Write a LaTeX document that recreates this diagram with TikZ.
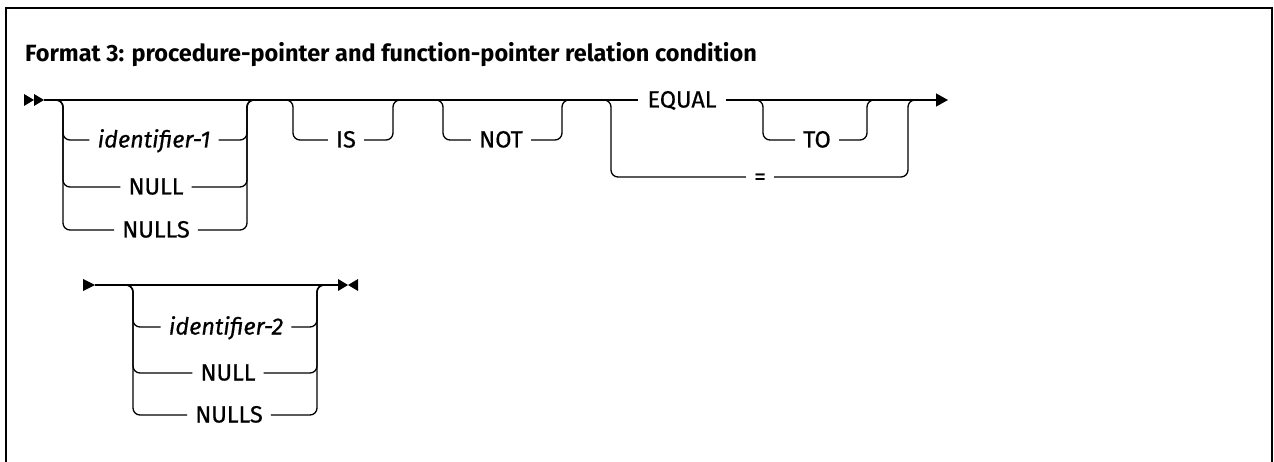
\documentclass[tikz,border=0pt]{standalone}
\usepackage{fontspec}
\setmainfont{Fira Sans}
\newfontfamily\railfont{Fira Sans}[FakeBold=0.6, ItalicFeatures={FakeBold=0.6}]
\usepackage{tikz}
\usetikzlibrary{arrows.meta, calc, positioning}

\tikzset{
  rail/.style={line width=1.3pt, rounded corners=7pt},
  kw/.style={font=\railfont\fontsize{23.5}{25}\selectfont, inner xsep=8pt, inner ysep=0pt,
    text height=15pt, text depth=0pt, anchor=center},
  tip/.style={fill=black}
}

\begin{document}
\begin{tikzpicture}[x=1pt, y=-1pt]
\useasboundingbox (0,0) rectangle (1274,462);
\draw[line width=2pt] (6,470) -- (6,8) -- (1272,8) -- (1272,470);
\node[anchor=base west, inner sep=0pt, font=\bfseries\fontsize{23.5}{26}\selectfont] (title) at (25,62)
  {Format 3: procedure-pointer and function-pointer relation condition};

\begin{scope}
\fill[tip] (24,94) -- (34,100) -- (24,106) -- cycle;
\fill[tip] (34,94) -- (44,100) -- (34,106) -- cycle;
\coordinate (st1) at (44,100);
\coordinate (fin1) at (948,100);
\node[kw] (id1) at (154,140) {\itshape identifier-1};
\node[kw] (nul1) at (156,187) {NULL};
\node[kw] (nuls1) at (156,230) {NULLS};
\node[kw] (is) at (346,140) {IS};
\node[kw] (not) at (501,140) {NOT};
\node[kw, inner xsep=9pt] (equal) at (682,100) {EQUAL};
\node[kw] (to) at (817,140) {TO};
\node[kw] (eqs) at (760,177) {=};
\draw[rail] (st1) -- (equal.west);
\draw[rail, -{Triangle[length=12pt, width=13pt]}] (equal.east) -- (fin1);
\end{scope}

\begin{scope}
\fill[tip] (83,279) -- (95,285) -- (83,291) -- cycle;
\fill[tip] (338,279) -- (348,285) -- (338,291) -- cycle;
\fill[tip] (358,279) -- (348,285) -- (358,291) -- cycle;
\coordinate (st2) at (95,285);
\coordinate (fin2) at (338,285);
\node[kw] (id2) at (226,327) {\itshape identifier-2};
\node[kw] (nul2) at (228,373) {NULL};
\node[kw] (nuls2) at (229,415) {NULLS};
\draw[rail] (st2) -- (fin2);
\end{scope}

\foreach \g/\r/\ja/\va/\vb/\jb in {A/100/53/63/247/257, B/100/285/293/393/401, C/100/435/443/562/570,
    D/100/603/611/908/916, E/100/755/763/867/875, F/285/125/133/317/325}{
  \coordinate (\g j1) at (\ja,\r);
  \coordinate (\g v1) at (\va,\r);
  \coordinate (\g v2) at (\vb,\r);
  \coordinate (\g j2) at (\jb,\r);
}
\foreach \n/\g in {id1/A, nul1/A, nuls1/A, is/B, not/C, eqs/D, to/E, id2/F, nul2/F, nuls2/F}
  \draw[rail] (\g j1) -- (\g v1) |- (\n.west) (\n.east) -| (\g v2) -- (\g j2);
\end{tikzpicture}
\end{document}
